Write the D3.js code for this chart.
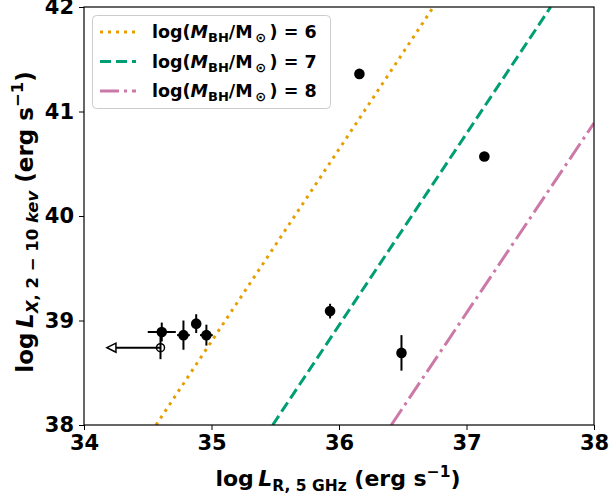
<!DOCTYPE html>
<html><head><meta charset="utf-8">
<script src="https://cdn.jsdelivr.net/npm/d3@7"></script>
<style>body{margin:0;background:#fff}text{font-family:"DejaVu Sans";font-weight:bold}</style>
</head><body><svg id="c" width="611" height="496"></svg>
<script>
const xTicks = [34, 35, 36, 37, 38];
const yTicks = [38, 39, 40, 41, 42];
// filled points: log LR, log LX, xerr, yerr
const ptLR = [34.61, 34.78, 34.88, 34.96, 35.93, 36.49, 36.16, 37.14];
const ptLX = [38.89, 38.86, 38.97, 38.86, 39.09, 38.69, 41.36, 40.57];
const ptXerr = [0.11, 0.05, 0.03, 0.05, 0, 0, 0, 0];
const ptYerr = [0.09, 0.14, 0.09, 0.10, 0.07, 0.17, 0, 0];
// upper limit point
const ulLR = [34.60];
const ulLX = [38.74];
const ulYerr = [0.11];
const ulArrowTo = [34.18];
// fundamental-plane lines (endpoints)
const lineNames = ["6", "7", "8"];
const lineX0 = [34.565, 35.48, 36.41];
const lineY0 = [38, 38, 38];
const lineX1 = [36.74, 37.66, 38.0];
const lineY1 = [42, 42, 40.89];
const lineColors = ["#E69F00", "#009E73", "#CC79A7"];
const lineDash = ["3,5", "11,5", "19,5,3,5"];

const svg = d3.select("#c");
const L = 84, R = 594, T = 7, B = 425;
const x = d3.scaleLinear().domain([34, 38]).range([L, R]);
const y = d3.scaleLinear().domain([38, 42]).range([B, T]);

svg.append("defs").append("clipPath").attr("id", "clip")
  .append("rect").attr("x", L).attr("y", T).attr("width", R - L).attr("height", B - T);

const g = svg.append("g").attr("clip-path", "url(#clip)");
lineNames.forEach((n, i) => {
  g.append("line").attr("x1", x(lineX0[i])).attr("y1", y(lineY0[i]))
    .attr("x2", x(lineX1[i])).attr("y2", y(lineY1[i]))
    .attr("stroke", lineColors[i]).attr("stroke-width", 3)
    .attr("stroke-dasharray", lineDash[i]);
});

// axes
const ax = svg.append("g").attr("transform", `translate(0,${B})`)
  .call(d3.axisBottom(x).tickValues(xTicks).tickFormat(d3.format("d")).tickSize(5).tickPadding(5));
const ay = svg.append("g").attr("transform", `translate(${L},0)`)
  .call(d3.axisLeft(y).tickValues(yTicks).tickFormat(d3.format("d")).tickSize(5).tickPadding(5));
[ax, ay].forEach(a => {
  a.select(".domain").remove();
  a.selectAll("line").attr("stroke", "#000").attr("stroke-width", 1);
  a.selectAll("text").attr("font-size", 21).attr("fill", "#000")
    .style("font-family", "DejaVu Sans").style("font-weight", "bold");
});
svg.append("rect").attr("x", L).attr("y", T).attr("width", R - L).attr("height", B - T)
  .attr("fill", "none").attr("stroke", "#000").attr("stroke-width", 1.2);

// error bars and points
ptLR.forEach((v, i) => {
  if (ptXerr[i] > 0) svg.append("line").attr("x1", x(v - ptXerr[i])).attr("x2", x(v + ptXerr[i]))
    .attr("y1", y(ptLX[i])).attr("y2", y(ptLX[i])).attr("stroke", "#000").attr("stroke-width", 2);
  if (ptYerr[i] > 0) svg.append("line").attr("x1", x(v)).attr("x2", x(v))
    .attr("y1", y(ptLX[i] - ptYerr[i])).attr("y2", y(ptLX[i] + ptYerr[i])).attr("stroke", "#000").attr("stroke-width", 2);
});
ulLR.forEach((v, i) => {
  svg.append("line").attr("x1", x(v)).attr("x2", x(v))
    .attr("y1", y(ulLX[i] - ulYerr[i])).attr("y2", y(ulLX[i] + ulYerr[i])).attr("stroke", "#000").attr("stroke-width", 2);
  const yy = y(ulLX[i]), xt = x(ulArrowTo[i]);
  svg.append("line").attr("x1", x(v)).attr("x2", xt + 9).attr("y1", yy).attr("y2", yy)
    .attr("stroke", "#000").attr("stroke-width", 2);
  svg.append("path").attr("d", `M${xt},${yy}L${xt + 9},${yy - 4.5}L${xt + 9},${yy + 4.5}Z`)
    .attr("fill", "#fff").attr("stroke", "#000").attr("stroke-width", 1.5);
  svg.append("circle").attr("cx", x(v)).attr("cy", yy).attr("r", 4)
    .attr("fill", "none").attr("stroke", "#000").attr("stroke-width", 1.5);
});
svg.selectAll("circle.pt").data(ptLR).join("circle").attr("class", "pt")
  .attr("cx", d => x(d)).attr("cy", (d, i) => y(ptLX[i])).attr("r", 5.3).attr("fill", "#000");

// legend
const lg = svg.append("g");
lg.append("rect").attr("x", 92.5).attr("y", 15.5).attr("width", 238).attr("height", 93).attr("rx", 4)
  .attr("fill", "#fff").attr("fill-opacity", 0.8).attr("stroke", "#ccc").attr("stroke-width", 1);
lineNames.forEach((n, i) => {
  const yy = 32 + i * 29.5;
  lg.append("line").attr("x1", 100).attr("x2", 136).attr("y1", yy).attr("y2", yy)
    .attr("stroke", lineColors[i]).attr("stroke-width", 3).attr("stroke-dasharray", lineDash[i]);
  const t = lg.append("text").attr("x", 152).attr("y", yy + 6).attr("font-size", 17.5).attr("fill", "#000");
  t.append("tspan").text("log(");
  t.append("tspan").attr("font-style", "italic").text("M");
  t.append("tspan").attr("font-size", 13).attr("dy", 4).text("BH");
  t.append("tspan").attr("dy", -4).text("/M");
  t.append("tspan").attr("font-size", 13).attr("dy", 4).text("\u2009\u2299");
  t.append("tspan").attr("dy", -4).text("\u2009) = " + n);
});

// x label
const xl = svg.append("text").attr("x", 338).attr("y", 486).attr("text-anchor", "middle")
  .attr("font-size", 22).attr("fill", "#000");
xl.append("tspan").text("log\u2009");
xl.append("tspan").attr("font-style", "italic").text("L");
xl.append("tspan").attr("font-size", 15.5).attr("dy", 5).text("R, 5 GHz");
xl.append("tspan").attr("dy", -5).text(" (erg s");
xl.append("tspan").attr("font-size", 15.5).attr("dy", -9).text("\u22121");
xl.append("tspan").attr("dy", 9).text(")");

// y label
const yl = svg.append("text").attr("transform", "translate(33,222) rotate(-90)").attr("text-anchor", "middle")
  .attr("font-size", 23).attr("fill", "#000");
yl.append("tspan").text("log\u2009");
yl.append("tspan").attr("font-style", "italic").text("L");
yl.append("tspan").attr("font-size", 16.5).attr("dy", 5).attr("font-style", "italic").text("X");
yl.append("tspan").attr("font-size", 16.5).text(", 2 \u2212 10 ");
yl.append("tspan").attr("font-size", 16.5).attr("font-style", "italic").text("kev");
yl.append("tspan").attr("dy", -5).text(" (erg s");
yl.append("tspan").attr("font-size", 16.5).attr("dy", -10).text("\u22121");
yl.append("tspan").attr("dy", 10).text(")");
</script></body></html>
